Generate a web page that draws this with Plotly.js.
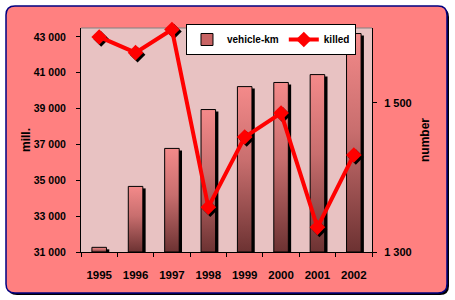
<!DOCTYPE html>
<html><head><meta charset="utf-8">
<script src="https://cdn.plot.ly/plotly-3.0.1.min.js"></script>
<style>html,body{margin:0;padding:0;background:#fff}</style>
</head><body><div id="chart" style="width:455px;height:300px"></div>
<script>
const years = ['1995','1996','1997','1998','1999','2000','2001','2002'];
const vehicleKm = [31260, 34660, 36780, 38950, 40230, 40460, 40900, 43190];
const killed = [1588, 1567, 1598, 1360, 1454, 1486, 1333, 1430];
const leftTicks = [31000, 33000, 35000, 37000, 39000, 41000, 43000];
const rightTicks = [1300, 1500];
const leftBase = 31000;

const idx = years.map((_, i) => i);
const bounds = years.concat(['']).map((_, i) => i - 0.5);

const W = 455, H = 300, ML = 81, MR = 83, MT = 28, MB = 48;
const PW = W - ML - MR, PH = H - MT - MB;
const px = x => ((x - ML) / PW).toFixed(5);
const py = y => ((H - MB - y) / PH).toFixed(5);
function roundRect(x0, y0, x1, y1, r) {
  return `M${px(x0+r)},${py(y0)} L${px(x1-r)},${py(y0)} Q${px(x1)},${py(y0)} ${px(x1)},${py(y0+r)} ` +
    `L${px(x1)},${py(y1-r)} Q${px(x1)},${py(y1)} ${px(x1-r)},${py(y1)} L${px(x0+r)},${py(y1)} ` +
    `Q${px(x0)},${py(y1)} ${px(x0)},${py(y1-r)} L${px(x0)},${py(y0+r)} Q${px(x0)},${py(y0)} ${px(x0+r)},${py(y0)} Z`;
}
// shadow offsets expressed in axis units (about 2 px)
const xShift = 2 / PW * 8;
const y2Shift = 2 / PH * 300;
const yShift = 2 / PH * 12500;

const FONT = {family: '"Liberation Sans Narrow", "Liberation Sans", Arial, sans-serif', weight: 'bold', color: '#000'};
const f = (size) => Object.assign({}, FONT, {size});

const shadowBar = {
  type: 'bar', x: idx, y: vehicleKm.map(v => Math.max(v - leftBase - yShift, 0)), base: leftBase,
  width: 0.4, offset: -0.2 + 1.4 * xShift,
  marker: {color: '#000', line: {width: 0}},
  showlegend: false, hoverinfo: 'skip', yaxis: 'y'
};
const mainBar = {
  type: 'bar', name: 'vehicle-km', x: idx, y: vehicleKm.map(v => v - leftBase), base: leftBase,
  width: 0.4, offset: -0.2,
  marker: {color: 'rgb(200,100,100)', line: {color: '#000', width: 1}},
  yaxis: 'y'
};
const markerShadow = {
  type: 'scatter', mode: 'markers', x: idx.map(i => i + xShift), y: killed.map(v => v - y2Shift),
  yaxis: 'y2', showlegend: false, hoverinfo: 'skip', cliponaxis: false,
  marker: {symbol: 'diamond', size: 12, color: '#000', line: {width: 0}}
};
const line = {
  type: 'scatter', mode: 'lines+markers', name: 'killed', x: idx, y: killed,
  yaxis: 'y2', cliponaxis: false,
  line: {color: '#ff0000', width: 4},
  marker: {symbol: 'diamond', size: 12, color: '#ff0000', line: {width: 0}}
};

const layout = {
  width: W, height: H,
  margin: {l: ML, r: MR, t: MT, b: MB, pad: 0},
  paper_bgcolor: '#ffffff', plot_bgcolor: 'rgba(0,0,0,0)',
  separators: '. ',
  barmode: 'overlay',
  showlegend: true,
  font: f(11),
  xaxis: {
    range: [-0.5, 7.5], fixedrange: true, tickangle: 0,
    tickmode: 'array', tickvals: idx, ticktext: years,
    showline: true, linecolor: '#000', linewidth: 1,
    ticks: '', tickfont: f(11.5), ticklabelstandoff: 12, showgrid: false, zeroline: false,
    minor: {tickmode: 'array', tickvals: bounds, ticks: 'outside', ticklen: 4, tickcolor: '#000', tickwidth: 1, showgrid: false}
  },
  yaxis: {
    range: [31000, 43500], tickvals: leftTicks, tickformat: ',d',
    showline: true, linecolor: '#000', linewidth: 1,
    ticks: 'outside', ticklen: 4, tickcolor: '#000',
    tickfont: f(10.5), ticklabelstandoff: 8, showgrid: false, zeroline: false,
    title: {text: 'mill.', font: f(12), standoff: 0}, automargin: false
  },
  yaxis2: {
    overlaying: 'y', side: 'right', range: [1300, 1600], tickvals: rightTicks, tickformat: ',d',
    showline: true, linecolor: '#000', linewidth: 1,
    ticks: 'outside', ticklen: 4, tickcolor: '#000',
    tickfont: f(11), ticklabelstandoff: 5, showgrid: false, zeroline: false,
    title: {text: 'number', font: f(12), standoff: 9}, automargin: false
  },
  legend: {
    orientation: 'h', x: px(186), y: py(24), xanchor: 'left', yanchor: 'top',
    bgcolor: '#ffffff', bordercolor: '#000', borderwidth: 1,
    font: f(10), traceorder: 'normal', itemclick: false, itemdoubleclick: false
  },
  shapes: [
    {type: 'path', xref: 'paper', yref: 'paper', layer: 'below', path: roundRect(8, 8, 449, 295, 9),
      fillcolor: '#000', line: {width: 0}},
    {type: 'path', xref: 'paper', yref: 'paper', layer: 'below', path: roundRect(6, 6, 447, 293, 9),
      fillcolor: '#ff8080', line: {color: '#000080', width: 1.5}},
    {type: 'rect', xref: 'paper', yref: 'paper', layer: 'below', x0: 0, x1: 1, y0: 0, y1: 1,
      fillcolor: '#e8c2c2', line: {width: 0}},
    {type: 'line', xref: 'paper', yref: 'paper', layer: 'below', x0: 0, x1: 1, y0: 1, y1: 1,
      line: {color: '#808080', width: 1}}
  ]
};

Plotly.newPlot('chart', [shadowBar, mainBar, markerShadow, line], layout, {staticPlot: true, displayModeBar: false}).then(gd => {
  const svg = gd.querySelector('svg.main-svg');
  const ns = 'http://www.w3.org/2000/svg';
  let defs = svg.querySelector('defs');
  if (!defs) { defs = document.createElementNS(ns, 'defs'); svg.insertBefore(defs, svg.firstChild); }
  const g = document.createElementNS(ns, 'linearGradient');
  g.setAttribute('id', 'barGrad'); g.setAttribute('x1', '0'); g.setAttribute('y1', '0');
  g.setAttribute('x2', '0'); g.setAttribute('y2', '1');
  [['0', '#f48a8a'], ['0.45', '#c86e6e'], ['1', '#6c3232']].forEach(([o, c]) => {
    const s = document.createElementNS(ns, 'stop');
    s.setAttribute('offset', o); s.setAttribute('stop-color', c); g.appendChild(s);
  });
  defs.appendChild(g);
  const traces = gd.querySelectorAll('.barlayer .trace');
  if (traces[1]) traces[1].querySelectorAll('path').forEach(p => { p.style.fill = 'url(#barGrad)'; });
  gd.querySelectorAll('.legend path.legendbar').forEach(p => { p.style.fill = 'url(#barGrad)'; });
});
</script>
</body></html>
